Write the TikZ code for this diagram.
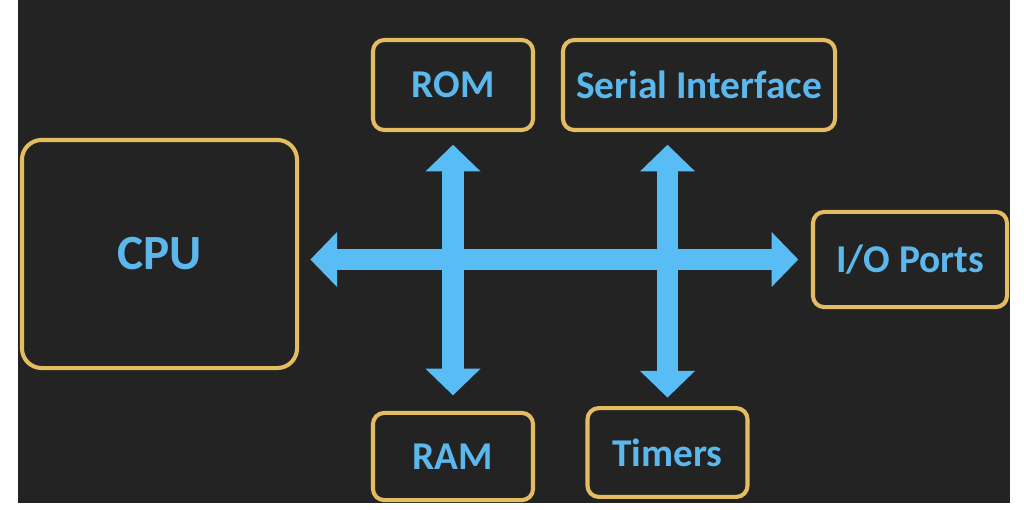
\documentclass[tikz,border=0pt]{standalone}
\usepackage{fontspec}
\setmainfont{Carlito}
\usetikzlibrary{arrows.meta,positioning}
\definecolor{bgdark}{RGB}{35,35,35}
\definecolor{gold}{RGB}{228,188,98}
\definecolor{busblue}{RGB}{88,188,245}
\definecolor{labelblue}{RGB}{92,184,236}

\begin{document}
\begin{tikzpicture}[x=0.025cm, y=-0.025cm,
    block/.style={rectangle, rounded corners=8pt, draw=gold, line width=2.9pt, fill=bgdark, text=labelblue, font=\bfseries\fontsize{28}{32}\selectfont, minimum width=4cm, minimum height=2.25cm},
    bus/.style={draw=busblue, line width=15.5pt, {Triangle[width=38pt,length=19pt]}-{Triangle[width=38pt,length=19pt]}}
]

% page and dark slide
\useasboundingbox (0,0) rectangle (1024,509);
\fill[white] (0,0) rectangle (1024,509);
\fill[bgdark] (18,0) rectangle (1010,503);

\node[block, rounded corners=14pt, minimum width=6.875cm, minimum height=5.7cm, font=\bfseries\fontsize{35}{40}\selectfont] (cpu) at (159.5,254) {CPU};
\node[block] (rom) at (453,85) {ROM};
\node[block, minimum width=6.8cm] (ser) at (699,85) {Serial Interface};
\node[block, minimum height=2.18cm] (ram) at (453,456.5) {RAM};
\node[block, minimum height=2.22cm] (tim) at (667.5,452.5) {Timers};
\node[block, minimum width=4.85cm, minimum height=2.38cm] (io) at (910,259.5) {I/O Ports};

% system bus
\draw[bus, shorten <=8pt, shorten >=9pt] (cpu.east |- io.west) -- (io.west);
\draw[bus, shorten <=9pt, shorten >=11pt] (rom.south) -- (ram.north);
\draw[bus, shorten <=9pt, shorten >=6pt] (tim.north |- ser.south) -- (tim.north);

\end{tikzpicture}
\end{document}
